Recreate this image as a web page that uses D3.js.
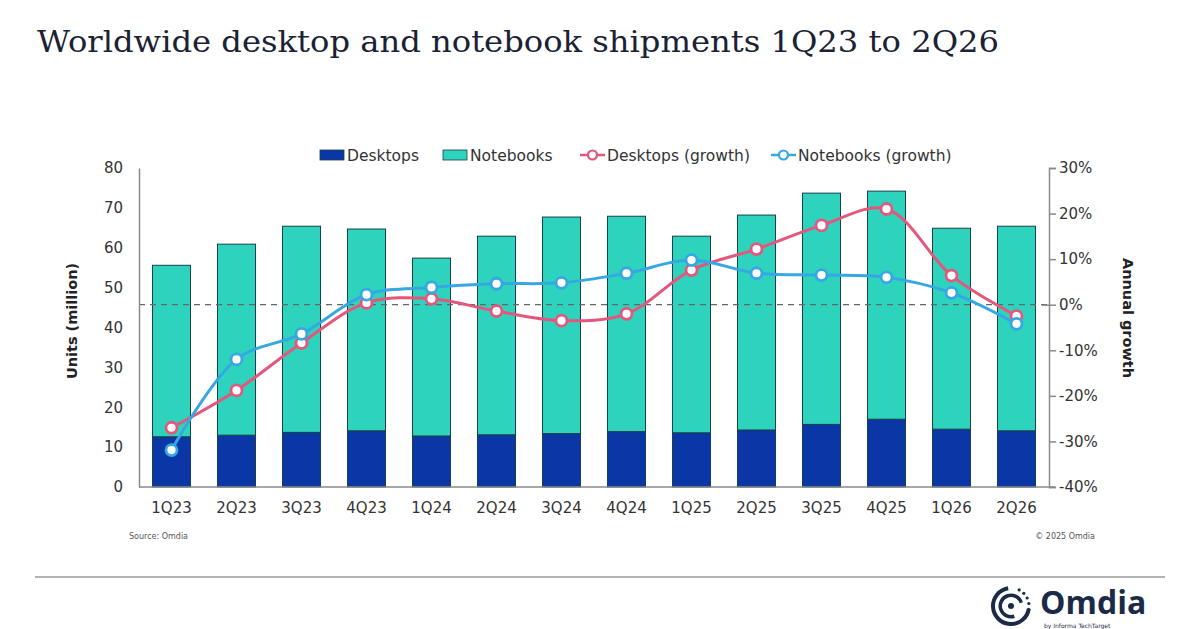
<!DOCTYPE html>
<html>
<head>
<meta charset="utf-8">
<script src="https://cdn.jsdelivr.net/npm/d3@7"></script>
<style>
  body { margin: 0; background: #fff; }
  svg { display: block; font-family: "DejaVu Sans", sans-serif; }
</style>
</head>
<body>
<svg id="chart" width="1200" height="629"></svg>
<script>
"use strict";

// data
const quarters = ["1Q23", "2Q23", "3Q23", "4Q23", "1Q24", "2Q24", "3Q24", "4Q24", "1Q25", "2Q25", "3Q25", "4Q25", "1Q26", "2Q26"];
const desktops = [12.6, 13.0, 13.7, 14.1, 12.8, 13.1, 13.4, 13.9, 13.6, 14.3, 15.7, 17.0, 14.5, 14.1];
const notebooks = [43.0, 47.9, 51.7, 50.6, 44.6, 49.8, 54.3, 54.0, 49.3, 53.9, 58.0, 57.2, 50.4, 51.3];
const desktopsGrowth = [-27.0, -18.8, -8.4, 0.4, 1.3, -1.4, -3.5, -2.0, 7.6, 12.2, 17.4, 21.0, 6.4, -2.5];
const notebooksGrowth = [-31.9, -12.0, -6.4, 2.2, 3.8, 4.6, 4.8, 6.9, 9.8, 6.9, 6.5, 6.0, 2.6, -4.2];
const unitTicks = [0, 10, 20, 30, 40, 50, 60, 70, 80];
const growthTicks = [-40, -30, -20, -10, 0, 10, 20, 30];

// colors
const cDesk = "#0b37a6", cNote = "#2ed3bd", cPink = "#e5567c", cBlue = "#35a8e4";
const axisGray = "#8a8a8a", textGray = "#333";
const tickFont = "'DejaVu Sans', sans-serif";

const svg = d3.select("#chart");

// plot box
const plotLeft = 139, plotRight = 1049, plotTop = 168, plotBottom = 487;

// scales
const x = d3.scaleBand().domain(quarters).range([plotLeft, plotRight]).paddingInner(0.415).paddingOuter(0.2075);
const yL = d3.scaleLinear().domain([0, 80]).range([plotBottom, plotTop]);
const yR = d3.scaleLinear().domain([-40, 30]).range([plotBottom, plotTop]);

// title
svg.append("text")
  .attr("x", 37).attr("y", 52)
  .attr("font-family", "'DejaVu Serif', serif")
  .attr("font-size", 30)
  .attr("fill", "#1a2233")
  .attr("textLength", 962).attr("lengthAdjust", "spacingAndGlyphs")
  .text("Worldwide desktop and notebook shipments 1Q23 to 2Q26");

// stacked bars
const stackRows = quarters.map((q, i) => ({ q: q, Desktops: desktops[i], Notebooks: notebooks[i] }));
const stacked = d3.stack().keys(["Desktops", "Notebooks"])(stackRows);
const fills = { Desktops: cDesk, Notebooks: cNote };

svg.append("g").attr("class", "bars")
  .selectAll("g").data(stacked).join("g")
  .attr("fill", d => fills[d.key])
  .selectAll("rect").data(d => d).join("rect")
  .attr("x", d => x(d.data.q))
  .attr("width", x.bandwidth())
  .attr("y", d => yL(d[1]))
  .attr("height", d => yL(d[0]) - yL(d[1]))
  .attr("stroke", "#17404a")
  .attr("stroke-width", 1);

// zero growth line
svg.append("line")
  .attr("x1", plotLeft).attr("x2", plotRight)
  .attr("y1", yR(0)).attr("y2", yR(0))
  .attr("stroke", "#666").attr("stroke-width", 1.3)
  .attr("stroke-dasharray", "6,5");

// left axis
const gL = svg.append("g").attr("transform", `translate(${plotLeft},0)`)
  .call(d3.axisLeft(yL).tickValues(unitTicks).tickSize(0).tickPadding(16));
gL.select(".domain").attr("stroke", axisGray).attr("stroke-width", 1.5);
gL.selectAll("text").attr("font-size", 15).attr("fill", textGray).attr("font-family", tickFont);

// right axis
const gR = svg.append("g").attr("transform", `translate(${plotRight},0)`)
  .call(d3.axisRight(yR).tickValues(growthTicks).tickSize(7).tickPadding(3).tickFormat(d => d + "%"));
gR.select(".domain").attr("stroke", axisGray).attr("stroke-width", 1.5);
gR.selectAll(".tick line").attr("stroke", axisGray).attr("stroke-width", 1.5);
gR.selectAll("text").attr("font-size", 15).attr("fill", textGray).attr("font-family", tickFont);
gR.selectAll(".tick").filter(d => d === 0).append("line")
  .attr("x1", -7).attr("x2", 0).attr("stroke", axisGray).attr("stroke-width", 1.5);

// bottom axis
const gB = svg.append("g").attr("transform", `translate(0,${plotBottom})`)
  .call(d3.axisBottom(x).tickSize(0).tickPadding(15));
gB.select(".domain").attr("stroke", axisGray).attr("stroke-width", 1.5).attr("d", `M${plotLeft},0H${plotRight + 6}`);
gB.selectAll("text").attr("font-size", 15).attr("fill", textGray).attr("font-family", tickFont);

// axis titles
svg.append("text")
  .attr("transform", `translate(77,321) rotate(-90)`)
  .attr("text-anchor", "middle")
  .attr("font-size", 14.5).attr("font-weight", "bold").attr("fill", "#222")
  .text("Units (million)");
svg.append("text")
  .attr("transform", `translate(1123,318) rotate(90)`)
  .attr("text-anchor", "middle")
  .attr("font-size", 14.5).attr("font-weight", "bold").attr("fill", "#222")
  .text("Annual growth");

// growth lines
const line = d3.line()
  .x((d, i) => x(quarters[i]) + x.bandwidth() / 2)
  .y(d => yR(d))
  .curve(d3.curveCatmullRom.alpha(0.5));

[[desktopsGrowth, cPink], [notebooksGrowth, cBlue]].forEach(([vals, col]) => {
  const g = svg.append("g");
  g.append("path").datum(vals)
    .attr("d", line).attr("fill", "none")
    .attr("stroke", col).attr("stroke-width", 3);
  g.selectAll("circle").data(vals).join("circle")
    .attr("cx", (d, i) => x(quarters[i]) + x.bandwidth() / 2)
    .attr("cy", d => yR(d))
    .attr("r", 5.5)
    .attr("fill", "#fff")
    .attr("stroke", col).attr("stroke-width", 2.8);
});

// legend
const legend = svg.append("g").attr("class", "legend").attr("font-size", 15.5).attr("fill", textGray);
const legendItems = [
  { label: "Desktops", type: "box", color: cDesk, x: 320 },
  { label: "Notebooks", type: "box", color: cNote, x: 443 },
  { label: "Desktops (growth)", type: "line", color: cPink, x: 580 },
  { label: "Notebooks (growth)", type: "line", color: cBlue, x: 771 }
];
legendItems.forEach(it => {
  const g = legend.append("g").attr("transform", `translate(${it.x},155)`);
  if (it.type === "box") {
    g.append("rect").attr("x", 0).attr("y", -5).attr("width", 24).attr("height", 10)
      .attr("fill", it.color).attr("stroke", "#17404a").attr("stroke-width", 0.8);
  } else {
    g.append("line").attr("x1", 0).attr("x2", 25).attr("y1", 0).attr("y2", 0)
      .attr("stroke", it.color).attr("stroke-width", 2.5);
    g.append("circle").attr("cx", 12.5).attr("cy", 0).attr("r", 4.5)
      .attr("fill", "#fff").attr("stroke", it.color).attr("stroke-width", 2.2);
  }
  g.append("text").attr("x", 27).attr("y", 5.5).attr("fill", textGray).text(it.label);
});

// footer notes
svg.append("text").attr("x", 129).attr("y", 539).attr("font-size", 8).attr("fill", "#555").text("Source: Omdia");
svg.append("text").attr("x", 1095).attr("y", 539).attr("text-anchor", "end").attr("font-size", 8).attr("fill", "#555").text("© 2025 Omdia");

// separator
svg.append("line").attr("x1", 35).attr("x2", 1165).attr("y1", 577).attr("y2", 577)
  .attr("stroke", "#9a9a9a").attr("stroke-width", 1.5);

// logo
const logo = svg.append("g").attr("transform", "translate(1011,606)");
const arc = d3.arc();
logo.append("path").attr("d", arc({ innerRadius: 16, outerRadius: 20, startAngle: Math.PI * 0.55, endAngle: Math.PI * 1.95 })).attr("fill", "#1b2a47");
logo.append("path").attr("d", arc({ innerRadius: 9, outerRadius: 12.5, startAngle: Math.PI * 0.9, endAngle: Math.PI * 2.4 })).attr("fill", "#1b2a47");
d3.range(0, 6).forEach(k => {
  const a = -Math.PI * 0.35 + k * 0.32;
  logo.append("circle").attr("cx", 18 * Math.cos(a)).attr("cy", 18 * Math.sin(a)).attr("r", 1.6).attr("fill", "#1b2a47");
});
logo.append("circle").attr("cx", 0).attr("cy", 0).attr("r", 3).attr("fill", "#1b2a47");
svg.append("text").attr("x", 1040).attr("y", 614)
  .attr("font-size", 32).attr("font-weight", "bold").attr("fill", "#1b2a47")
  .attr("font-family", "'Open Sans', 'DejaVu Sans', sans-serif")
  .text("Omdia");
svg.append("text").attr("x", 1044).attr("y", 628)
  .attr("font-size", 6).attr("fill", "#1b2a47")
  .text("by Informa TechTarget");
</script>
</body>
</html>
